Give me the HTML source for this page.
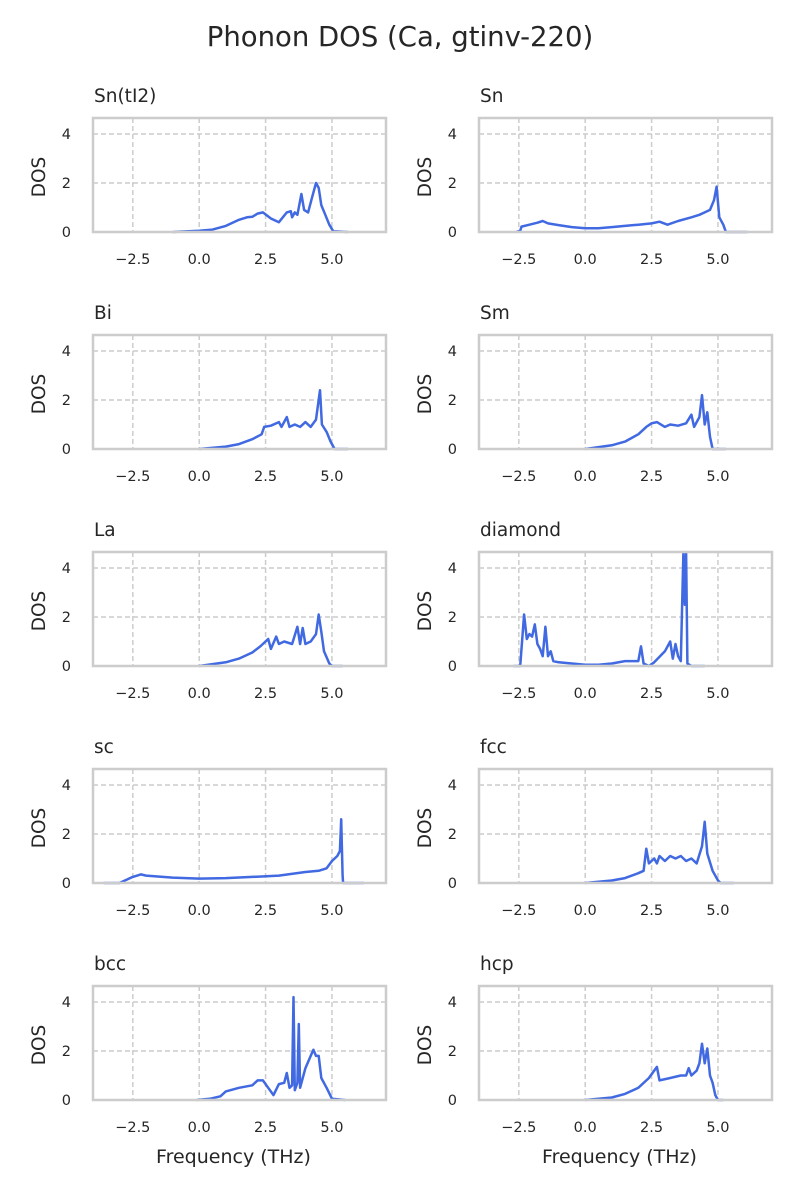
<!DOCTYPE html>
<html><head><meta charset="utf-8"><style>
html,body{margin:0;padding:0;background:#fff;}
svg{display:block;font-family:"DejaVu Sans","Liberation Sans",sans-serif;}
</style></head><body>
<svg id="s" width="800" height="1200" viewBox="0 0 800 1200" xmlns="http://www.w3.org/2000/svg">
<rect width="800" height="1200" fill="#fff"/>
<text x="400" y="46" font-size="27.5" fill="#262626" text-anchor="middle">Phonon DOS (Ca, gtinv-220)</text>
</svg>
<script>
var S=document.getElementById('s');var NS='http://www.w3.org/2000/svg';
function el(t,a,txt){var e=document.createElementNS(NS,t);for(var k in a)e.setAttribute(k,a[k]);if(txt!=null)e.textContent=txt;S.appendChild(e);return e;}
var data={
"Sn(tI2)":[[-1,0],[0,0.05],[0.5,0.1],[1,0.25],[1.5,0.5],[1.8,0.6],[2,0.62],[2.2,0.75],[2.4,0.8],[2.7,0.55],[3,0.4],[3.3,0.8],[3.45,0.85],[3.5,0.6],[3.6,0.8],[3.7,0.7],[3.85,1.55],[3.95,0.9],[4.1,0.8],[4.25,1.4],[4.4,2.0],[4.5,1.8],[4.6,1.1],[4.75,0.7],[4.9,0.3],[5.05,0.03],[5.6,0]],
"Sn":[[-2.6,0],[-2.45,0.05],[-2.4,0.22],[-2.1,0.3],[-1.8,0.38],[-1.6,0.45],[-1.4,0.35],[-1,0.28],[-0.5,0.2],[0,0.15],[0.5,0.15],[1,0.2],[1.5,0.25],[2,0.3],[2.5,0.35],[2.8,0.42],[3.1,0.3],[3.5,0.45],[4,0.6],[4.3,0.7],[4.5,0.8],[4.7,0.9],[4.85,1.3],[4.95,1.85],[5.05,0.6],[5.2,0.3],[5.3,0],[6.1,0]],
"Bi":[[0,0],[1,0.1],[1.5,0.2],[2,0.4],[2.35,0.6],[2.45,0.9],[2.7,0.95],[3,1.1],[3.1,0.9],[3.3,1.3],[3.4,0.9],[3.6,1.0],[3.8,0.9],[4,1.1],[4.2,0.9],[4.4,1.2],[4.55,2.4],[4.62,1.0],[4.8,0.7],[4.95,0.3],[5.1,0],[5.6,0]],
"Sm":[[0,0],[1,0.15],[1.5,0.3],[2,0.6],[2.3,0.9],[2.5,1.05],[2.7,1.1],[3,0.9],[3.2,1.0],[3.5,0.95],[3.8,1.05],[4.0,1.4],[4.1,0.9],[4.3,1.3],[4.4,2.2],[4.5,1.0],[4.6,1.5],[4.7,0.5],[4.8,0],[5.3,0]],
"La":[[0,0],[1,0.15],[1.5,0.3],[2,0.55],[2.3,0.8],[2.6,1.1],[2.7,0.7],[2.9,1.2],[3,0.9],[3.2,1.0],[3.5,0.9],[3.7,1.6],[3.8,0.9],[3.9,1.55],[4,0.9],[4.2,1.0],[4.4,1.3],[4.5,2.1],[4.6,1.4],[4.7,0.6],[4.9,0.1],[5.0,0],[5.4,0]],
"diamond":[[-2.7,0],[-2.45,0],[-2.3,2.1],[-2.2,1.1],[-2.1,1.3],[-2.0,1.2],[-1.9,1.7],[-1.8,0.9],[-1.7,0.7],[-1.6,0.4],[-1.5,1.6],[-1.4,0.4],[-1.3,0.6],[-1.2,0.2],[-1,0.15],[-0.5,0.1],[0,0.05],[0.5,0.05],[1,0.1],[1.5,0.2],[2,0.2],[2.1,0.8],[2.2,0.1],[2.4,0],[2.6,0.15],[3.0,0.6],[3.2,1.0],[3.3,0.3],[3.4,0.9],[3.5,0.4],[3.6,0.2],[3.7,4.65],[3.75,2.5],[3.8,4.65],[3.85,0.1],[4,0],[4.5,0]],
"sc":[[-3.6,0],[-3,0],[-2.8,0.1],[-2.5,0.25],[-2.2,0.35],[-2.0,0.3],[-1,0.22],[0,0.18],[1,0.2],[2,0.25],[3,0.3],[4,0.45],[4.5,0.5],[4.8,0.6],[5.0,0.9],[5.2,1.1],[5.3,1.3],[5.35,2.6],[5.4,0.3],[5.42,0],[6.2,0]],
"fcc":[[0,0],[1,0.1],[1.5,0.2],[2,0.4],[2.2,0.5],[2.3,1.4],[2.4,0.8],[2.6,1.0],[2.7,0.8],[2.8,1.1],[3,0.9],[3.2,1.1],[3.4,1.0],[3.6,1.1],[3.8,0.9],[4,1.0],[4.2,0.8],[4.4,1.5],[4.5,2.5],[4.6,1.2],[4.8,0.5],[5.0,0.1],[5.1,0],[5.6,0]],
"bcc":[[-0.1,0],[0.4,0.05],[0.8,0.15],[1,0.35],[1.5,0.5],[2,0.6],[2.2,0.8],[2.4,0.8],[2.6,0.5],[2.8,0.2],[3,0.65],[3.2,0.7],[3.3,1.1],[3.4,0.5],[3.5,0.6],[3.55,4.2],[3.6,0.4],[3.7,0.7],[3.75,3.1],[3.8,0.5],[4.0,1.3],[4.2,1.8],[4.3,2.05],[4.4,1.8],[4.5,1.8],[4.6,0.9],[4.8,0.5],[5.0,0.05],[5.5,0]],
"hcp":[[0,0],[1,0.1],[1.5,0.25],[2,0.5],[2.4,0.9],[2.6,1.2],[2.7,1.35],[2.8,0.8],[3.2,0.9],[3.6,1.0],[3.8,1.0],[3.9,1.3],[4,1.0],[4.2,1.2],[4.3,1.5],[4.4,2.3],[4.5,1.5],[4.6,2.1],[4.7,1.0],[4.8,0.7],[4.9,0.2],[5.0,0],[5.2,0]]
};
var names=[["Sn(tI2)","Sn"],["Bi","Sm"],["La","diamond"],["sc","fcc"],["bcc","hcp"]];
var tops=[118,335,552,769,986];var lefts=[93,479];var W=293,H=114,sx=26.55,sy=24.5;
for(var r=0;r<5;r++)for(var c=0;c<2;c++){
 var x0=lefts[c],t=tops[r],b=t+H;
 function px(f){return x0+(f+4.0)*sx;} function py(d){return b-d*sy;}
 [-2.5,0,2.5,5].forEach(function(f){el('line',{x1:px(f),x2:px(f),y1:t,y2:b,stroke:'#cccccc','stroke-width':1.5,'stroke-dasharray':'5,3'});
  el('text',{x:px(f),y:b+32,'font-size':14.5,fill:'#262626','text-anchor':'middle'},f.toFixed(1).replace('-','\u2212'));});
 [0,2,4].forEach(function(d){if(d>0)el('line',{x1:x0,x2:x0+W,y1:py(d),y2:py(d),stroke:'#cccccc','stroke-width':1.5,'stroke-dasharray':'5,3'});
  el('text',{x:x0-22,y:py(d)+5,'font-size':14.5,fill:'#262626','text-anchor':'end'},String(d));});
 var pts=data[names[r][c]].map(function(p){return px(p[0]).toFixed(1)+','+Math.max(t,py(p[1])).toFixed(1);}).join(' ');
 el('polyline',{points:pts,fill:'none',stroke:'#4169e1','stroke-width':2.5,'stroke-linejoin':'round'});
 el('rect',{x:x0,y:t,width:W,height:H,fill:'none',stroke:'#cccccc','stroke-width':2.5});
 el('text',{x:x0+1,y:t-16,'font-size':18.5,fill:'#262626'},names[r][c]);
 var lx=x0-53,ly=t+H/2+2;
 el('text',{x:lx,y:ly,'font-size':18.5,fill:'#262626','text-anchor':'middle','dominant-baseline':'middle',transform:'rotate(-90 '+lx+' '+ly+')'},'DOS');
 if(r==4)el('text',{x:x0+W/2-6,y:1163,'font-size':19,fill:'#262626','text-anchor':'middle'},'Frequency (THz)');
}
</script>
</body></html>
